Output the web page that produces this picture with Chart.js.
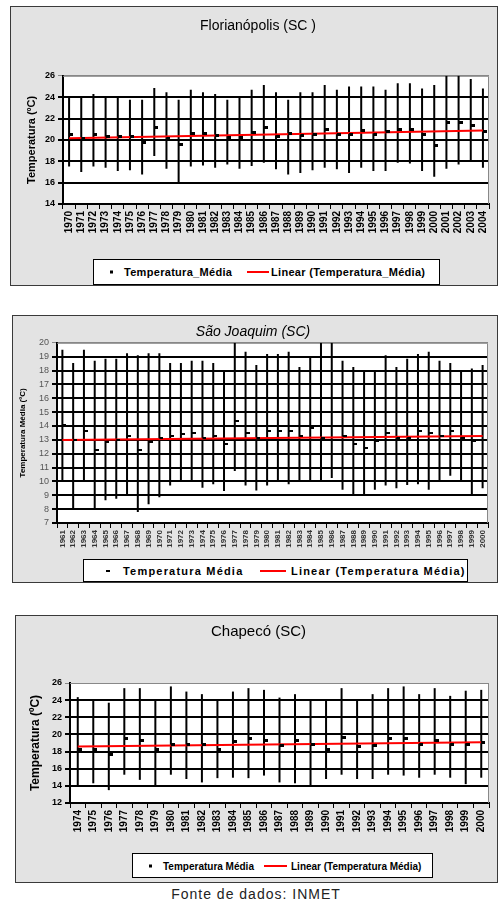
<!DOCTYPE html>
<html>
<head>
<meta charset="utf-8">
<script src="https://cdn.jsdelivr.net/npm/chart.js@4.4.1/dist/chart.umd.min.js"></script>
<style>
  body { margin: 0; width: 498px; height: 909px; background: #fff; position: relative; overflow: hidden; font-family: Arial, "Liberation Sans", sans-serif; }
  .frame { position: absolute; background: #e3e3e3; border: 1px solid #3a3a3a; box-sizing: border-box; }
  .frame canvas { position: absolute; left: 0; top: 0; }
  .legend { position: absolute; background: #fff; border: 1px solid #000; box-sizing: border-box; font-weight: bold; white-space: nowrap; color: #000; }
  .legend span { position: absolute; top: 50%; transform: translateY(-50%); }
  .mk { background: #000; }
  .ln { height: 2px; background: #f00; }
  .footer { position: absolute; left: 0; width: 512px; top: 886px; text-align: center; font-size: 14px; letter-spacing: 1px; color: #222; }
</style>
</head>
<body>

<div class="frame" style="left:10px;top:6px;width:488px;height:280px">
  <canvas id="floripa" width="486" height="278"></canvas>
  <div class="legend" style="left:82px;top:252px;width:347px;height:26px;font-size:11px;letter-spacing:0.3px">
    <span class="mk" style="left:16px;width:3px;height:3px"></span>
    <span style="left:30px">Temperatura_Média</span>
    <span class="ln" style="left:153px;width:22px"></span>
    <span style="left:177px">Linear (Temperatura_Média)</span>
  </div>
</div>

<div class="frame" style="left:12px;top:315px;width:486px;height:268px">
  <canvas id="saojoaquim" width="484" height="266"></canvas>
  <div class="legend" style="left:70px;top:243px;width:385px;height:23px;font-size:11px;letter-spacing:1.2px">
    <span class="mk" style="left:22px;width:4px;height:2px"></span>
    <span style="left:39px">Temperatura Média</span>
    <span class="ln" style="left:176px;width:26px"></span>
    <span style="left:207px">Linear (Temperatura Média)</span>
  </div>
</div>

<div class="frame" style="left:15px;top:615px;width:483px;height:268px">
  <canvas id="chapeco" width="481" height="266"></canvas>
  <div class="legend" style="left:116px;top:237px;width:301px;height:25px;font-size:10px">
    <span class="mk" style="left:16px;width:3px;height:3px"></span>
    <span style="left:30px">Temperatura Média</span>
    <span class="ln" style="left:131px;width:23px"></span>
    <span style="left:158px">Linear (Temperatura Média)</span>
  </div>
</div>

<div class="footer">Fonte de dados: INMET</div>

<script>
// Florianópolis (SC) 1970-2004
const floripaYears = ['1970','1971','1972','1973','1974','1975','1976','1977','1978','1979',
  '1980','1981','1982','1983','1984','1985','1986','1987','1988','1989',
  '1990','1991','1992','1993','1994','1995','1996','1997','1998','1999',
  '2000','2001','2002','2003','2004']
const floripaMax = [24.0, 24.0, 24.3, 24.0, 24.0, 23.75, 23.75, 24.85, 24.45, 23.75,
  24.7, 24.45, 24.3, 23.75, 24.0, 24.7, 25.15, 24.45, 23.75, 24.45,
  24.45, 25.15, 24.7, 25.0, 25.0, 25.0, 24.7, 25.3, 25.3, 24.8,
  25.15, 26.0, 26.0, 25.7, 24.8]
const floripaMin = [17.5, 17.0, 17.5, 17.4, 17.1, 17.15, 16.75, 18.5, 17.3, 16.0,
  17.5, 17.6, 17.4, 17.7, 17.3, 17.55, 17.85, 17.25, 16.75, 16.9,
  17.15, 17.4, 17.25, 16.9, 17.4, 17.1, 17.1, 17.85, 17.8, 17.1,
  16.55, 17.3, 17.7, 18.1, 17.4]
const floripaMean = [20.5, 20.15, 20.5, 20.3, 20.3, 20.3, 19.8, 21.2, 20.1, 19.6,
  20.6, 20.6, 20.4, 20.25, 20.25, 20.65, 21.15, 20.35, 20.6, 20.45,
  20.5, 21.0, 20.5, 20.5, 20.85, 20.5, 20.75, 21.0, 21.0, 20.5,
  19.5, 21.65, 21.6, 21.35, 20.8]
const floripaTrend = [20.15, 20.87]

// São Joaquim (SC) 1961-2000
const sjYears = ['1961','1962','1963','1964','1965','1966','1967','1968','1969','1970',
  '1971','1972','1973','1974','1975','1976','1977','1978','1979','1980',
  '1981','1982','1983','1984','1985','1986','1987','1988','1989','1990',
  '1991','1992','1993','1994','1995','1996','1997','1998','1999','2000']
const sjMax = [19.5, 18.55, 19.5, 18.7, 18.85, 18.85, 19.25, 19.1, 19.25, 19.25,
  18.55, 18.55, 18.7, 18.7, 18.55, 17.9, 20.0, 19.35, 18.4, 19.2,
  19.2, 19.35, 18.25, 19.05, 20.0, 20.0, 18.7, 18.25, 17.9, 17.9,
  19.1, 18.25, 18.85, 19.2, 19.35, 18.7, 18.55, 17.9, 18.15, 18.4]
const sjMin = [10.05, 8.0, 10.0, 8.0, 8.65, 8.75, 9.05, 7.8, 8.35, 8.85,
  9.7, 10.05, 10.05, 9.55, 9.8, 9.3, 10.75, 9.7, 9.35, 9.7,
  10.05, 9.8, 10.05, 10.05, 10.05, 10.25, 9.4, 9.0, 9.0, 9.4,
  9.7, 9.5, 9.75, 9.8, 9.4, 10.05, 10.4, 10.05, 9.0, 9.5]
const sjMean = [14.1, 13.0, 13.65, 12.3, 12.85, 13.0, 13.27, 12.3, 12.85, 13.1,
  13.27, 13.4, 13.5, 13.15, 13.27, 12.7, 14.35, 13.5, 13.15, 13.67,
  13.65, 13.65, 13.25, 13.85, 13.15, 14.0, 13.25, 12.7, 12.4, 12.9,
  13.5, 13.1, 13.1, 13.65, 13.5, 13.25, 13.65, 13.1, 12.9, 13.0]
const sjTrend = [12.98, 13.28]

// Chapecó (SC) 1974-2000
const chYears = ['1974','1975','1976','1977','1978','1979','1980','1981','1982','1983',
  '1984','1985','1986','1987','1988','1989','1990','1991','1992','1993',
  '1994','1995','1996','1997','1998','1999','2000']
const chMax = [24.35, 24.0, 23.7, 25.4, 25.4, 24.0, 25.6, 25.0, 24.7, 23.95,
  25.0, 25.4, 25.2, 24.3, 24.7, 23.95, 23.95, 25.4, 23.95, 24.7,
  25.4, 25.6, 24.7, 25.4, 24.5, 25.1, 25.2]
const chMin = [14.0, 14.3, 13.5, 15.3, 14.7, 14.0, 15.3, 14.8, 14.4, 14.9,
  14.95, 14.9, 15.2, 14.4, 14.3, 14.0, 14.8, 15.3, 14.8, 14.8,
  15.3, 15.2, 14.95, 15.3, 14.95, 14.2, 14.95]
const chMean = [18.2, 18.2, 17.7, 19.5, 19.25, 18.2, 18.85, 18.85, 18.85, 18.3,
  19.15, 19.55, 19.25, 18.7, 19.25, 18.8, 18.2, 19.65, 18.65, 18.7,
  19.55, 19.55, 18.8, 19.35, 18.8, 18.8, 19.05]
const chTrend = [18.6, 19.1]

const FONT = 'Arial, "Liberation Sans", sans-serif'
Chart.defaults.font.family = FONT
Chart.defaults.color = '#000'

// white plot area with thin grey top/right border
const plotArea = {
    id: 'plotArea',
    beforeDraw(chart) {
        const { ctx, chartArea: a } = chart
        ctx.save()
        ctx.fillStyle = '#fff'
        ctx.fillRect(a.left, a.top, a.width, a.height)
        ctx.restore()
    },
    beforeDatasetsDraw(chart) {
        const { ctx, chartArea: a } = chart
        ctx.save()
        ctx.strokeStyle = '#888'
        ctx.lineWidth = 1
        ctx.beginPath()
        ctx.moveTo(a.left, a.top + 0.5)
        ctx.lineTo(a.right - 0.5, a.top + 0.5)
        ctx.lineTo(a.right - 0.5, a.bottom)
        ctx.stroke()
        ctx.restore()
    }
}

// excel-like mean marker: small block sticking out on the right of the bar
function markerImg(w, h) {
    const c = document.createElement('canvas')
    c.width = 2 * (w + 1)
    c.height = h
    const g = c.getContext('2d')
    g.fillStyle = '#000'
    g.fillRect(w + 1, 0, w + 1, h)
    return c
}

function rangeChart(id, o) {
    const n = o.years.length
    const trend = o.years.map((_, i) => (i === 0 ? o.trend[0] : i === n - 1 ? o.trend[1] : null))
    return new Chart(document.getElementById(id), {
        type: 'bar',
        data: {
            labels: o.years,
            datasets: [
                {
                    type: 'line',
                    data: o.mean,
                    showLine: false,
                    pointStyle: markerImg(o.mk[0], o.mk[1]),
                    pointRadius: 3,
                    order: 1
                },
                {
                    type: 'line',
                    data: trend,
                    spanGaps: true,
                    borderColor: '#f00',
                    borderWidth: 2,
                    pointRadius: 0,
                    order: 2
                },
                {
                    type: 'bar',
                    data: o.years.map((_, i) => [o.min[i], o.max[i]]),
                    backgroundColor: '#000',
                    barThickness: 2,
                    inflateAmount: 0,
                    borderWidth: 0,
                    order: 3
                }
            ]
        },
        options: {
            responsive: false,
            animation: false,
            devicePixelRatio: 1,
            layout: { padding: o.pad },
            plugins: {
                legend: { display: false },
                tooltip: { enabled: false },
                title: {
                    display: true,
                    text: o.title,
                    color: '#000',
                    font: o.titleFont,
                    padding: o.titlePad
                }
            },
            scales: {
                x: {
                    grid: { drawOnChartArea: false, color: '#000', tickLength: 5, lineWidth: 1 },
                    border: { color: '#000', width: 2 },
                    ticks: { autoSkip: false, minRotation: 90, maxRotation: 90, color: o.xColor, font: o.xFont, padding: 2 },
                    afterFit(s) { s.height = o.xH }
                },
                y: {
                    min: o.yMin,
                    max: o.yMax,
                    ticks: { stepSize: o.step, color: o.yColor, font: o.yFont, padding: 3 },
                    grid: {
                        color: c => (c.tick && c.tick.value === o.yMax ? '#888' : '#000'),
                        lineWidth: c => (c.tick && c.tick.value === o.yMax ? 1 : 2),
                        tickLength: 5
                    },
                    border: { color: '#000', width: 2 },
                    title: { display: true, text: o.yTitle, color: '#000', font: o.yTitleFont, padding: { top: o.yTitlePad, bottom: 0 } },
                    afterFit(s) { s.width = o.yW }
                }
            }
        },
        plugins: [plotArea]
    })
}

rangeChart('floripa', {
    years: floripaYears, min: floripaMin, max: floripaMax, mean: floripaMean, trend: floripaTrend,
    title: 'Florianópolis (SC )', titleFont: { size: 14, weight: 'normal' }, titlePad: { top: 11, bottom: 41 },
    pad: { left: 12, right: 4, top: 0, bottom: 31 }, yW: 40, xH: 50,
    yMin: 14, yMax: 26, step: 2, mk: [3, 3],
    yTitle: 'Temperatura (ºC)', yTitleFont: { size: 11, weight: 'bold' }, yTitlePad: 2,
    yFont: { size: 9, weight: 'bold' }, yColor: '#000',
    xFont: { size: 10, weight: 'bold' }, xColor: '#000'
})

rangeChart('saojoaquim', {
    years: sjYears, min: sjMin, max: sjMax, mean: sjMean, trend: sjTrend,
    title: 'São Joaquim (SC)', titleFont: { size: 14, style: 'italic', weight: 'normal' }, titlePad: { top: 8, bottom: 2 },
    pad: { left: 5, right: 9, top: 0, bottom: 24 }, yW: 39, xH: 35,
    yMin: 7, yMax: 20, step: 1, mk: [3, 2],
    yTitle: 'Temperatura Média (ºC)', yTitleFont: { size: 8, weight: 'bold' }, yTitlePad: 0,
    yFont: { size: 9 }, yColor: '#555',
    xFont: { size: 8, weight: 'bold' }, xColor: '#333'
})

rangeChart('chapeco', {
    years: chYears, min: chMin, max: chMax, mean: chMean, trend: chTrend,
    title: 'Chapecó (SC)', titleFont: { size: 15, weight: 'normal' }, titlePad: { top: 7, bottom: 42 },
    pad: { left: 12, right: 8, top: 0, bottom: 39 }, yW: 42, xH: 40,
    yMin: 12, yMax: 26, step: 2, mk: [3, 3],
    yTitle: 'Temperatura (ºC)', yTitleFont: { size: 12, weight: 'bold' }, yTitlePad: 0,
    yFont: { size: 9, weight: 'bold' }, yColor: '#000',
    xFont: { size: 10, weight: 'bold' }, xColor: '#000'
})
</script>
</body>
</html>
